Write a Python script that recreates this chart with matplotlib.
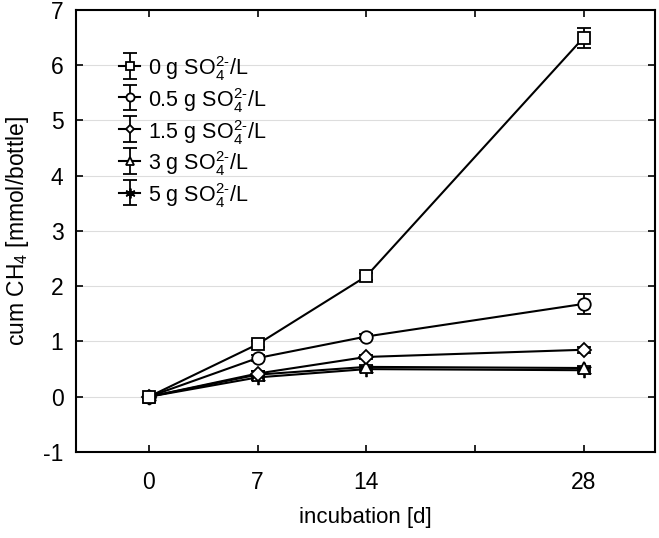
import matplotlib
matplotlib.use("Agg")
import matplotlib.pyplot as plt
from matplotlib.legend_handler import HandlerErrorbar
from matplotlib.container import ErrorbarContainer

plt.rcParams['font.family'] = ['Liberation Sans', 'DejaVu Sans']
plt.rcParams['mathtext.fontset'] = 'custom'
plt.rcParams['mathtext.rm'] = 'Liberation Sans'
plt.rcParams['mathtext.it'] = 'Liberation Sans'
plt.rcParams['axes.unicode_minus'] = False

days = [0, 7, 14, 28]
labels = ["0 g SO$_4^{2\\text{-}}$/L", "0.5 g SO$_4^{2\\text{-}}$/L", "1.5 g SO$_4^{2\\text{-}}$/L",
          "3 g SO$_4^{2\\text{-}}$/L", "5 g SO$_4^{2\\text{-}}$/L"]
s0 = [0, 0.95, 2.18, 6.50]
s05 = [0, 0.70, 1.09, 1.68]
s15 = [0, 0.42, 0.72, 0.85]
s3 = [0, 0.40, 0.54, 0.52]
s5 = [0, 0.35, 0.50, 0.48]
e0 = [0.02, 0.05, 0.06, 0.18]
e05 = [0.02, 0.05, 0.05, 0.18]
e15 = [0.02, 0.04, 0.04, 0.05]
e3 = [0.02, 0.06, 0.04, 0.04]
e5 = [0.02, 0.05, 0.04, 0.04]
markers = ['s', 'o', 'D', '^', (6, 2, 0)]
msizes = [9, 9, 7, 8, 11]

fig = plt.figure(figsize=(6.59, 5.38), dpi=100)
ax = fig.add_axes([0.1153, 0.1599, 0.8786, 0.8215])

series = [s0, s05, s15, s3, s5]
errs = [e0, e05, e15, e3, e5]
for i, (ys, es) in enumerate(zip(series, errs)):
    ax.errorbar(days, ys, yerr=es, color='black', lw=1.5, marker=markers[i],
                ms=msizes[i], mfc='white', mec='black', mew=1.3, capsize=5,
                elinewidth=1.3, capthick=1.3, label=labels[i], zorder=5 - i)

ax.set_xlim(-4.7, 32.6)
ax.set_ylim(-1, 7)
ax.set_xticks([0, 7, 14, 21, 28])
ax.set_xticklabels(['0', '7', '14', '', '28'])
ax.set_yticks(range(-1, 8))
ax.yaxis.grid(True, color='#dddddd', lw=0.8)
ax.set_axisbelow(True)
ax.tick_params(direction='in', top=True, right=True, length=5, width=1.2, labelsize=16.5)
ax.tick_params(axis='x', pad=14)
ax.tick_params(axis='y', pad=9)
for sp in ax.spines.values():
    sp.set_linewidth(1.5)

ax.set_xlabel('incubation [d]', fontsize=16, labelpad=9)
ax.set_ylabel('cum CH$_4$ [mmol/bottle]', fontsize=16.5, labelpad=9)

leg = ax.legend(loc='upper left', bbox_to_anchor=(0.075, 0.90), frameon=False, fontsize=15.5,
                handlelength=0.95, handletextpad=0.4, labelspacing=0.13, handleheight=1.27,
                markerscale=0.65, borderaxespad=0, borderpad=0,
                handler_map={ErrorbarContainer: HandlerErrorbar(xerr_size=0.3, yerr_size=0.6)})

fig.savefig('out.png', dpi=100)
